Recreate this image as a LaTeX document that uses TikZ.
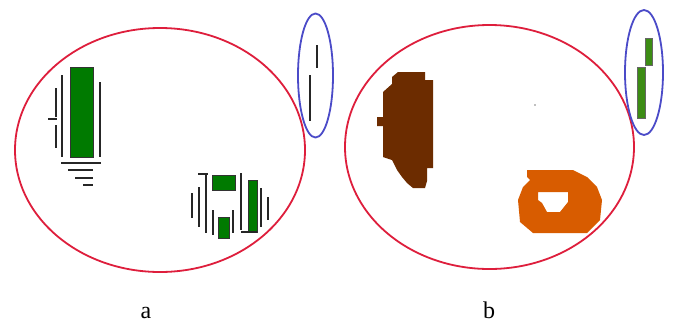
\documentclass[tikz,border=0pt]{standalone}
\usepackage{fontspec}
\setmainfont{Liberation Serif}
\usepackage{tikz}
\definecolor{zonered}{RGB}{222,30,60}
\definecolor{probeblue}{RGB}{75,75,200}
\definecolor{cellgreen}{RGB}{0,122,0}
\definecolor{leafgreen}{RGB}{60,140,20}
\definecolor{lobebrown}{RGB}{108,44,0}
\definecolor{ringorange}{RGB}{216,92,0}
\tikzset{
  zone/.style={draw=zonered, line width=1.8pt},
  probe/.style={draw=probeblue, line width=1.8pt},
  tick/.style={draw=black!85, line width=2.8pt},
  cell/.style={fill=cellgreen, draw=black!80, line width=0.4pt},
  leaf/.style={fill=leafgreen, draw=black!60, line width=0.3pt},
  lbl/.style={font=\fontsize{24}{24}\selectfont, inner sep=0pt, anchor=base}
}
\begin{document}
\begin{tikzpicture}[x=1pt,y=-1pt]
\useasboundingbox (0,0) rectangle (674,322);
\fill[white] (0,0) rectangle (674,322);

% panel a
\draw[zone] (160,150) ellipse [x radius=145, y radius=122];
\draw[probe] (315.5,75.5) ellipse [x radius=17.5, y radius=62];
\draw[tick] (317,45) -- (317,68);
\draw[tick] (310,75) -- (310,121);

\fill[cell] (70,67) rectangle (93,157);
\draw[tick] (62,75) -- (62,157);
\draw[tick] (100,82) -- (100,157);
\draw[tick] (56,88) -- (56,117);
\draw[tick] (56,125) -- (56,148);
\draw[tick] (48,119) -- (57,119);
\draw[tick] (61,163) -- (101,163);
\draw[tick] (68,170) -- (93,170);
\draw[tick] (75,178) -- (93,178);
\draw[tick] (83,185) -- (93,185);

\fill[cell] (212,175) rectangle (235,190);
\fill[cell] (248,180) rectangle (257,232);
\fill[cell] (218,217) rectangle (229,238);
\draw[tick] (198,174) -- (208,174);
\draw[tick] (192,193) -- (192,218);
\draw[tick] (199,187) -- (199,227);
\draw[tick] (206,175) -- (206,233);
\draw[tick] (213,210) -- (213,235);
\draw[tick] (233,210) -- (233,233);
\draw[tick] (241,173) -- (241,230);
\draw[tick] (261,188) -- (261,227);
\draw[tick] (268,197) -- (268,220);
\draw[tick] (241,232) -- (257,232);

\node[lbl] (la) at (146,318) {a};

% panel b
\draw[zone] (489.5,147) ellipse [x radius=144.5, y radius=122];
\draw[probe] (644,72.5) ellipse [x radius=19, y radius=62.5];
\fill[leaf] (645,38) rectangle (652,65);
\fill[leaf] (637,67) rectangle (645,118);

\fill[lobebrown] (398,72) -- (425,72) -- (425,80) -- (433,80) -- (433,168)
  -- (427,168) -- (427,181) -- (425,188) -- (413,188) -- (407,183)
  -- (402,177) -- (397,170) -- (392,160) -- (383,157) -- (383,126)
  -- (377,126) -- (377,117) -- (383,117) -- (383,92) -- (392,84)
  -- (392,77) -- cycle;

\fill[ringorange, even odd rule]
  (527,170) -- (573,170) -- (587,177) -- (597,187) -- (602,200)
  -- (600,220) -- (587,233) -- (533,233) -- (520,222) -- (518,200)
  -- (523,187) -- (530,180) -- (527,177) -- cycle
  (538,192) -- (568,192) -- (568,202) -- (560,212) -- (547,212)
  -- (542,203) -- (538,200) -- cycle;

\fill[black!50] (535,105) circle (0.8);

\node[lbl] (lb) at (489,318) {b};
\end{tikzpicture}
\end{document}
